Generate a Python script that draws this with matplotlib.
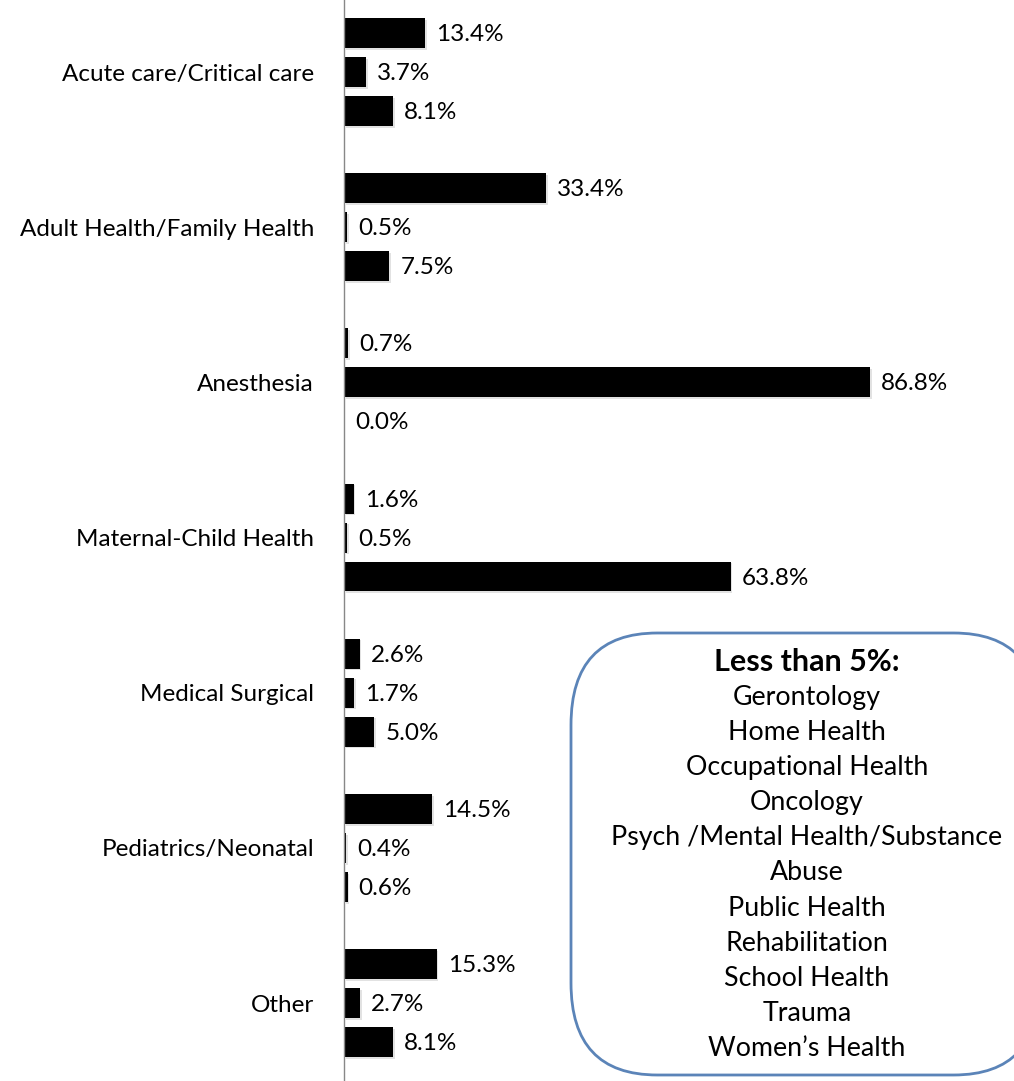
import matplotlib
matplotlib.use("Agg")
import matplotlib.pyplot as plt
import numpy as np
from matplotlib.patches import FancyBboxPatch
import matplotlib.patheffects as pe

categories = ["Acute care/Critical care", "Adult Health/Family Health", "Anesthesia",
              "Maternal-Child Health", "Medical Surgical", "Pediatrics/Neonatal", "Other"]
series_top = [13.4, 33.4, 0.7, 1.6, 2.6, 14.5, 15.3]
series_mid = [3.7, 0.5, 86.8, 0.5, 1.7, 0.4, 2.7]
series_bot = [8.1, 7.5, 0.0, 63.8, 5.0, 0.6, 8.1]
box_title = "Less than 5%:"
box_items = ["Gerontology", "Home Health", "Occupational Health", "Oncology",
             "Psych /Mental Health/Substance", "Abuse", "Public Health",
             "Rehabilitation", "School Health", "Trauma", "Women\u2019s Health"]

plt.rcParams['font.family'] = ['Lato', 'DejaVu Sans']
W, H = 1014, 1081
fig = plt.figure(figsize=(W/100, H/100), dpi=100)
ax_left = 344 / W
ax = fig.add_axes([ax_left, 0, 1 - ax_left, 1])

y = np.arange(len(categories))
off = 0.251
h = 0.193
shadow = [pe.SimplePatchShadow(offset=(1.2, -1.2), shadow_rgbFace='0.75', alpha=0.45), pe.Normal()]
for vals, d in [(series_top, -off), (series_mid, 0), (series_bot, off)]:
    bars = ax.barh(y + d, vals, height=h, color='black')
    for b in bars:
        b.set_path_effects(shadow)
    for yy, v in zip(y + d, vals):
        ax.text(v + 1.8, yy + 0.01, f"{v:.1f}%", va='center', ha='left', fontsize=17.5)

ax.set_xlim(0, (W - 344) / 6.06)
ax.set_ylim(6.502, -0.464)
ax.set_yticks(y)
ax.set_yticklabels(categories, fontsize=17.5)
ax.tick_params(axis='y', length=0, pad=21.6)
ax.set_xticks([])
for s in ['top', 'right', 'bottom']:
    ax.spines[s].set_visible(False)
ax.spines['left'].set_color('#888888')
ax.spines['left'].set_linewidth(1.0)

# rounded box
bx0, by0, bx1, by1 = 571, 633, 1040, 1075
box = FancyBboxPatch((bx0 / W, 1 - by1 / H), (bx1 - bx0) / W, (by1 - by0) / H,
                     boxstyle="round,pad=0,rounding_size=0.085",
                     transform=fig.transFigure, facecolor='white',
                     edgecolor='#5B84B8', linewidth=2, clip_on=False)
fig.patches.append(box)
cx = 807 / W
fig.text(cx, 1 - 662 / H, box_title, ha='center', va='center', fontsize=22, fontweight='bold')
for i, t in enumerate(box_items):
    fig.text(cx, 1 - (697 + 35.2 * i) / H, t, ha='center', va='center', fontsize=19.3)

fig.savefig("out.png", dpi=100)
